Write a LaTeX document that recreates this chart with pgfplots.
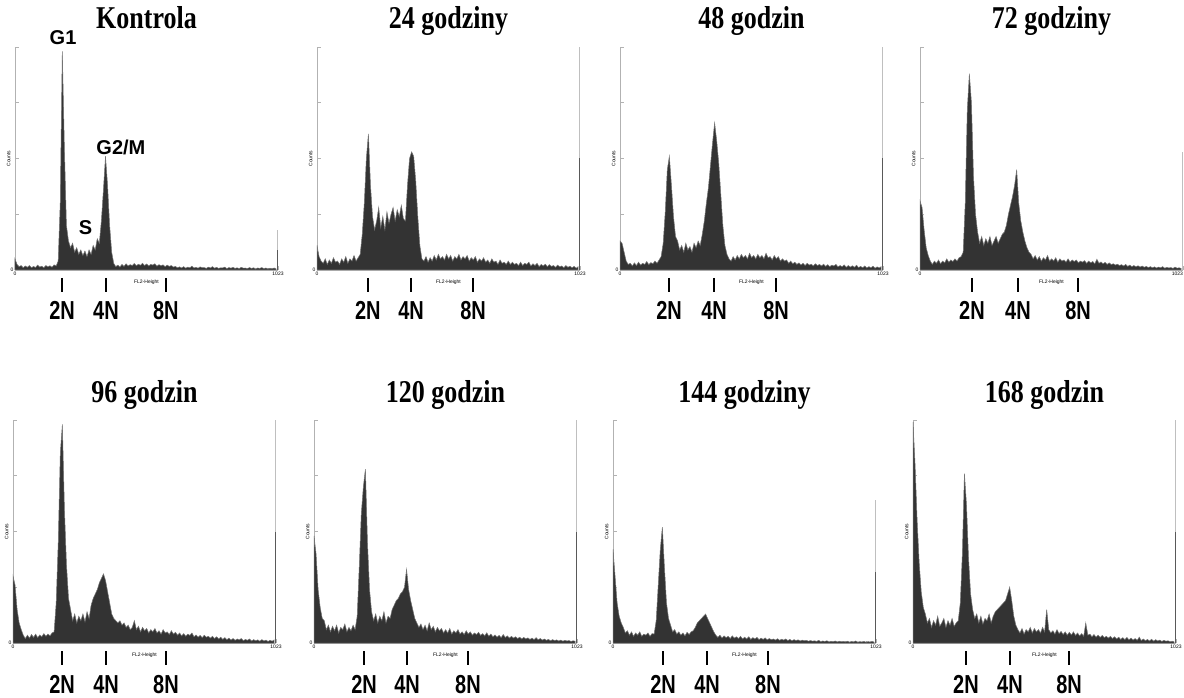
\documentclass[border=0pt]{standalone}
\usepackage{fontspec}
\setmainfont{Liberation Serif}
\newfontfamily\arial{Liberation Sans}
\usepackage{graphicx}
\usepackage{pgfplots}
\usepackage{pgfplotstable}
\pgfplotsset{compat=1.18}

% DNA histograms, 128 bins of 8 channels, height in % of the axis
\pgfplotstableread[row sep=\\]{y\\
5\\2.5\\1.5\\2\\1\\1.8\\1.2\\2\\1\\1.6\\1.1\\2.2\\1.3\\1.7\\1\\2\\
1.4\\1.9\\1.2\\2.3\\1.8\\4\\30\\98\\55\\20\\13\\10\\12\\8\\10\\7\\
9\\6.5\\8.5\\6\\9\\7\\11\\9\\14\\12\\22\\36\\51\\38\\20\\8\\
3\\1.5\\2.2\\1.3\\2.5\\1.6\\2.8\\1.8\\2.4\\2\\2.9\\1.9\\2.6\\2.1\\3\\2\\
2.7\\1.8\\2.5\\2.2\\2.8\\1.7\\2.4\\1.9\\2.3\\1.5\\2.2\\1.6\\2\\1.3\\1.6\\1\\
1.4\\0.9\\1.5\\0.8\\1.3\\1\\1.7\\0.9\\1.2\\0.8\\1.4\\1\\1.1\\0.7\\1.3\\0.9\\
1.5\\0.8\\1.2\\0.7\\1\\0.9\\1.3\\0.6\\1.1\\0.8\\1.2\\0.7\\1\\0.6\\1.2\\0.8\\
0.9\\0.6\\1.1\\0.7\\1\\0.5\\0.9\\0.7\\1.1\\0.6\\0.9\\0.5\\0.8\\0.6\\0.9\\0.5\\
}\tabA
\pgfplotstableread[row sep=\\]{y\\
11\\6\\4\\3\\5\\2.5\\4.5\\3\\5.5\\3.5\\4\\2.5\\5\\3.5\\6\\3\\
5\\4\\6.5\\4\\5.5\\7\\16\\30\\50\\61\\38\\24\\18\\22\\28\\19\\
24\\18\\26\\21\\25\\28\\22\\27\\24\\29\\23\\22\\38\\50\\53\\51\\
40\\24\\11\\5\\4\\6\\3.5\\5.5\\4\\6.5\\4.5\\7\\5\\6\\4.5\\7\\
5\\6.5\\4\\6\\5\\7\\4.5\\6\\5\\6.5\\4\\5.5\\4.5\\6\\3.5\\5\\
4\\5.5\\3.5\\4.5\\3\\5\\3.5\\4\\2.5\\4.5\\3\\3.5\\2.5\\4\\2.5\\3.5\\
2.5\\3\\2\\3.5\\2\\3\\2.5\\3.5\\1.8\\2.8\\2\\3\\1.5\\2.5\\1.8\\2.6\\
1.5\\2.4\\1.6\\2\\1.2\\2.2\\1.4\\1.8\\1\\2\\1.2\\1.7\\1\\1.6\\0.8\\1.5\\
}\tabB
\pgfplotstableread[row sep=\\]{y\\
13\\12\\8\\4\\2.5\\3\\1.8\\3.2\\2\\3.5\\2.2\\3\\2.5\\3.8\\2.4\\3.3\\
2.8\\4\\3\\4.5\\6\\12\\26\\45\\51\\38\\24\\15\\13\\9\\11\\8\\
12\\9\\10.5\\8\\12\\10\\13\\11\\16\\22\\30\\37\\47\\57\\66\\58\\
48\\34\\20\\11\\7\\5\\4\\6\\4.5\\6.5\\5\\7\\5.5\\6.5\\5\\7.5\\
5.5\\6.5\\5\\7\\5.5\\6.5\\5\\7.5\\5.5\\6\\4.5\\6.5\\5\\6\\4\\5\\
4\\4.5\\3\\4\\2.8\\3.5\\2.5\\3.2\\2.2\\3\\2\\3\\2.2\\2.6\\1.8\\2.8\\
2\\2.5\\1.8\\2.6\\1.6\\2.4\\1.5\\2.2\\1.8\\2.5\\1.4\\2\\1.5\\2.3\\1.2\\2\\
1.3\\1.9\\1.2\\2.1\\1.1\\1.6\\1\\1.8\\0.9\\1.5\\1\\1.7\\0.8\\1.4\\0.9\\1.5\\
}\tabC
\pgfplotstableread[row sep=\\]{y\\
31\\28\\18\\10\\6.5\\4\\2.5\\4\\3\\4.5\\2.8\\4\\3.2\\5\\3.5\\4.5\\
3.8\\5\\4\\5.5\\6\\8\\30\\72\\88\\75\\42\\25\\17\\12\\15\\11\\
14\\12\\15\\11\\13\\15\\12\\14\\16\\17\\20\\25\\29\\33\\38\\45\\
30\\22\\17\\13\\10\\8\\7\\5\\6.5\\4.5\\6\\4\\5.5\\4.5\\6.5\\4\\
5\\4\\5.5\\3.5\\5\\4\\4.5\\3.5\\5\\3.5\\4.5\\3.8\\4.5\\3.2\\4\\3.5\\
4.2\\3\\4\\3.2\\3.8\\2.8\\4.8\\3\\3.6\\2.8\\3.4\\2.5\\3.2\\2.4\\2.8\\2.2\\
2.6\\2\\2.4\\1.8\\2.5\\1.6\\2.2\\1.5\\2\\1.4\\1.9\\1.3\\1.8\\1.2\\1.6\\1.1\\
1.5\\1\\1.4\\0.9\\1.3\\1\\1.5\\0.8\\1.2\\0.9\\1.1\\0.7\\1.3\\0.8\\1\\0.7\\
}\tabD
\pgfplotstableread[row sep=\\]{y\\
30\\26\\15\\9\\6\\3.5\\2\\3.5\\2.2\\3.8\\2.5\\4\\2.4\\3.6\\2.8\\4.2\\
3\\4\\3.2\\4.5\\5\\18\\45\\85\\98\\60\\35\\20\\15\\10\\13\\9\\
12\\10\\13\\9.5\\14\\11\\17\\20\\22\\24\\27\\29\\31\\28\\23\\18\\
13\\11\\10\\9\\10\\8\\9\\7\\8\\6\\7\\10\\6\\7.5\\5\\7\\
5.5\\6.5\\4.5\\6\\5\\6.5\\4.5\\5.5\\4\\6\\4.5\\5\\3.8\\5.5\\4\\4.8\\
3.5\\4.5\\3.2\\4.2\\3\\4\\3.4\\4.5\\2.8\\3.6\\2.6\\3.4\\2.4\\3.5\\2.6\\3\\
2.2\\3\\2\\2.8\\1.8\\2.6\\1.6\\2.4\\1.5\\2.2\\1.3\\2\\1.2\\1.8\\1.4\\2\\
1\\1.6\\1.2\\1.8\\0.9\\1.5\\1\\1.4\\0.8\\1.5\\0.9\\1.3\\0.7\\1.2\\0.8\\1.4\\
}\tabE
\pgfplotstableread[row sep=\\]{y\\
48\\40\\24\\16\\11\\10\\6\\8\\5\\7.5\\5.5\\8\\4.5\\7\\6\\8.5\\
5\\7\\5.5\\8\\6\\12\\34\\58\\70\\78\\45\\24\\14\\10\\13\\9\\
12\\10\\14\\9\\12\\11\\15\\17\\19\\20\\22\\23\\25\\33\\24\\19\\
15\\11\\9\\7\\8.5\\6\\8\\5.5\\9\\6\\7.5\\5\\7\\5.5\\6.5\\4.5\\
6\\4.5\\6.5\\4\\5.5\\4.5\\6\\4\\5\\3.8\\5.5\\4\\5\\3.5\\4.5\\3.8\\
4.8\\3.4\\4.2\\3.2\\4.6\\3\\4\\2.8\\3.6\\2.6\\3.4\\2.4\\3.8\\2.5\\3.2\\2.2\\
3\\2.2\\2.8\\2\\2.6\\1.8\\2.5\\1.8\\2.3\\1.6\\2.2\\1.5\\2.4\\1.4\\2\\1.3\\
1.8\\1.2\\1.6\\1\\1.5\\1.1\\1.4\\0.9\\1.3\\0.8\\1.2\\0.9\\1.1\\0.7\\1\\0.8\\
}\tabF
\pgfplotstableread[row sep=\\]{y\\
42\\30\\18\\12\\9\\7\\4.5\\5.5\\3.5\\5\\3\\4.5\\3.5\\5\\3\\4\\
3.5\\4.5\\3\\4.2\\4\\10\\26\\42\\52\\34\\18\\11\\8\\5\\6\\4\\
5\\3.5\\4.5\\3.2\\4.8\\3.8\\5\\5.5\\7\\9\\10\\11\\12\\13\\11\\9\\
7\\5\\3.5\\2.5\\3.5\\2.2\\3.2\\2.4\\3\\2\\3.2\\2.2\\2.8\\2\\3\\1.8\\
2.6\\1.8\\2.8\\1.6\\2.4\\1.8\\2.5\\1.5\\2.2\\1.6\\2.3\\1.4\\2\\1.5\\1.8\\1.3\\
1.9\\1.2\\1.7\\1.3\\1.8\\1.1\\1.6\\1\\1.5\\1.1\\1.4\\0.9\\1.3\\1\\1.2\\0.8\\
1.1\\0.8\\1\\0.7\\1.2\\0.6\\0.9\\0.7\\1\\0.5\\0.8\\0.6\\0.9\\0.5\\0.8\\0.6\\
0.7\\0.5\\0.8\\0.4\\0.7\\0.5\\0.9\\0.4\\0.6\\0.5\\0.7\\0.4\\0.6\\0.5\\0.7\\0.4\\
}\tabG
\pgfplotstableread[row sep=\\]{y\\
99\\80\\55\\36\\23\\16\\13\\9\\11\\7\\10\\8\\12\\7.5\\9\\11\\
7\\10\\8\\11\\7.5\\9\\10\\18\\40\\76\\62\\38\\22\\15\\11\\13\\
9\\12\\8.5\\11\\10\\13\\9\\12\\14\\15\\16\\17\\18\\19\\22\\25\\
19\\12\\8\\6\\4.5\\6.5\\4\\6\\5\\7\\4.5\\6.5\\5\\6\\4.5\\7\\
5\\15\\6\\4.5\\5.5\\4\\6\\4.2\\5.2\\3.8\\5\\3.5\\4.8\\3.6\\5\\3.4\\
4.5\\3.2\\4.2\\3\\9\\3.5\\4\\2.8\\3.8\\2.6\\3.5\\2.5\\3.4\\2.4\\3\\2.2\\
3\\2\\2.8\\1.8\\2.6\\1.6\\2.4\\1.5\\2.5\\1.4\\2.2\\1.3\\2\\1.2\\2.6\\1.1\\
1.8\\1\\1.6\\0.9\\1.7\\0.8\\1.5\\0.9\\1.3\\0.7\\1.2\\0.8\\1\\0.6\\0.8\\0.5\\
}\tabH

\newcommand{\tinyfont}{\arial\fontsize{2.5}{3}\selectfont}

\pgfplotsset{
  hist/.style={
    width=131.5pt, height=111.5pt, scale only axis,
    xmin=0, xmax=1023, ymin=0, ymax=100,
    axis x line*=bottom, axis y line*=left,
    axis line style={gray!60, line width=0.4pt},
    xtick={0,1023}, xticklabels={0,1023},
    minor x tick num=25,
    ytick={0,25,50,75,100}, yticklabels={0,,,,},
    tick align=inside, major tick length=2pt, minor tick length=1.2pt,
    tick style={gray!60, line width=0.3pt},
    ticklabel style={font=\tinyfont, inner sep=0.6pt},
    /pgf/number format/assume math mode=true,
    xlabel={FL2-Height}, ylabel={Counts},
    label style={font=\tinyfont},
    xlabel style={at={(axis description cs:0.5,0)}, anchor=north, yshift=-1.5pt},
    ylabel style={at={(axis description cs:-0.012,0.5)}, anchor=south, inner sep=0.5pt},
    every axis title/.style={at={(0.5,1)}, anchor=base, yshift=9pt,
      font=\fontsize{13}{15}\selectfont\bfseries},
    clip=false,
  },
  histfill/.style={fill=black!80, draw=black!55, line width=0.25pt},
  spike/.style={gray!50, line width=0.5pt},
  spikedark/.style={black!65, line width=0.5pt},
}

\tikzset{
  mark line/.style={line width=1pt, black},
  mark label/.style={anchor=base, font=\arial\bfseries\fontsize{10}{12}\selectfont, inner sep=0pt},
  phase/.style={font=\arial\bfseries\fontsize{10}{12}\selectfont, inner sep=0pt},
}

% 2N / 4N / 8N markers below an axis
\newcommand{\ploidy}[3]{%
  \draw[mark line] ([yshift=-4pt]axis cs:#1,0) -- ([yshift=-11pt]axis cs:#1,0);
  \draw[mark line] ([yshift=-4pt]axis cs:#2,0) -- ([yshift=-11pt]axis cs:#2,0);
  \draw[mark line] ([yshift=-4pt]axis cs:#3,0) -- ([yshift=-11pt]axis cs:#3,0);
  \node[mark label] at ([yshift=-25pt]axis cs:#1,0) {\scalebox{1}[1.3]{2N}};
  \node[mark label] at ([yshift=-25pt]axis cs:#2,0) {\scalebox{1}[1.3]{4N}};
  \node[mark label] at ([yshift=-25pt]axis cs:#3,0) {\scalebox{1}[1.3]{8N}};
}

\begin{document}
\begin{tikzpicture}
\path[use as bounding box] (0,0) rectangle (592pt,348.5pt);

\begin{axis}[hist, at={(7.5pt,213.5pt)}, anchor=south west,
  title={\scalebox{1}[1.22]{Kontrola}}]
  \addplot[histfill] table[x expr=\coordindex*8, y=y] {\tabA} \closedcycle;
  \addplot[spike] coordinates {(1021,0) (1021,18)};
  \addplot[spikedark] coordinates {(1021,0) (1021,9)};
  \ploidy{183}{354}{587}
  \node[phase] at (axis cs:187,104) {G1};
  \node[phase] at (axis cs:412,55) {G2/M};
  \node[phase] at (axis cs:274,19) {S};
\end{axis}

\begin{axis}[hist, at={(158.5pt,213.5pt)}, anchor=south west,
  title={\scalebox{1}[1.22]{24 godziny}}]
  \addplot[histfill] table[x expr=\coordindex*8, y=y] {\tabB} \closedcycle;
  \addplot[spike] coordinates {(1021,0) (1021,100)};
  \addplot[spikedark] coordinates {(1021,0) (1021,50)};
  \ploidy{198}{366}{607}
\end{axis}

\begin{axis}[hist, at={(310pt,213.5pt)}, anchor=south west,
  title={\scalebox{1}[1.22]{48 godzin}}]
  \addplot[histfill] table[x expr=\coordindex*8, y=y] {\tabC} \closedcycle;
  \addplot[spike] coordinates {(1021,0) (1021,100)};
  \addplot[spikedark] coordinates {(1021,0) (1021,50)};
  \ploidy{191}{366}{607}
\end{axis}

\begin{axis}[hist, at={(460pt,213.5pt)}, anchor=south west,
  xticklabels={0,{\llap{1023}}},
  title={\scalebox{1}[1.22]{72 godziny}}]
  \addplot[histfill] table[x expr=\coordindex*8, y=y] {\tabD} \closedcycle;
  \addplot[spike] coordinates {(1021,0) (1021,53)};
  \ploidy{202}{381}{615}
\end{axis}

\begin{axis}[hist, at={(6.5pt,27pt)}, anchor=south west,
  title={\scalebox{1}[1.22]{96 godzin}}]
  \addplot[histfill] table[x expr=\coordindex*8, y=y] {\tabE} \closedcycle;
  \addplot[spike] coordinates {(1021,0) (1021,100)};
  \addplot[spikedark] coordinates {(1021,0) (1021,50)};
  \ploidy{191}{362}{595}
\end{axis}

\begin{axis}[hist, at={(157pt,27pt)}, anchor=south west,
  title={\scalebox{1}[1.22]{120 godzin}}]
  \addplot[histfill] table[x expr=\coordindex*8, y=y] {\tabF} \closedcycle;
  \addplot[spike] coordinates {(1021,0) (1021,100)};
  \addplot[spikedark] coordinates {(1021,0) (1021,50)};
  \ploidy{195}{362}{599}
\end{axis}

\begin{axis}[hist, at={(306.5pt,27pt)}, anchor=south west,
  title={\scalebox{1}[1.22]{144 godziny}}]
  \addplot[histfill] table[x expr=\coordindex*8, y=y] {\tabG} \closedcycle;
  \addplot[spike] coordinates {(1021,0) (1021,64)};
  \addplot[spikedark] coordinates {(1021,0) (1021,32)};
  \ploidy{195}{366}{603}
\end{axis}

\begin{axis}[hist, at={(456.5pt,27pt)}, anchor=south west,
  title={\scalebox{1}[1.22]{168 godzin}}]
  \addplot[histfill] table[x expr=\coordindex*8, y=y] {\tabH} \closedcycle;
  \addplot[spike] coordinates {(1021,0) (1021,100)};
  \addplot[spikedark] coordinates {(1021,0) (1021,50)};
  \ploidy{206}{377}{607}
\end{axis}
\end{tikzpicture}
\end{document}
